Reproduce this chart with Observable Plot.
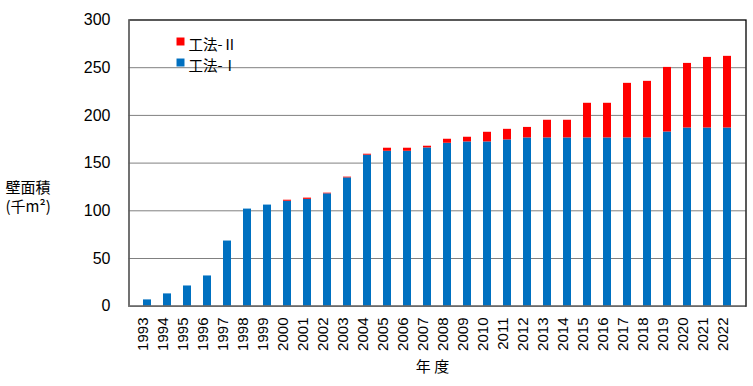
<!DOCTYPE html>
<html>
<head>
<meta charset="utf-8">
<script src="https://cdn.jsdelivr.net/npm/d3@7"></script>
<script src="https://cdn.jsdelivr.net/npm/@observablehq/plot@0.6"></script>
<style>
html, body { margin: 0; padding: 0; background: #fff; }
</style>
</head>
<body>
<div id="chart"></div>
<script>
const years = ["1993","1994","1995","1996","1997","1998","1999","2000","2001","2002","2003","2004","2005","2006","2007","2008","2009","2010","2011","2012","2013","2014","2015","2016","2017","2018","2019","2020","2021","2022"];
const method1 = [6.6,12.9,21.2,31.7,68.3,101.8,106,110,112,117.8,134.5,158.3,162.4,162.4,165.9,170.8,172.2,172.2,174.3,176.4,176.4,176.4,176.4,176.4,176.4,176.4,182.6,186.8,186.8,186.8];
const method2 = [0,0,0,0,0,0,0,1.1,1.3,0.7,0.8,1.0,3.2,3.2,1.8,4.2,4.9,10.1,11.1,11.0,18.5,18.5,36.3,36.3,57.2,59.3,67.7,67.7,74.0,75.1];
const seriesNames = ["工法-Ⅰ","工法-Ⅱ"];
const seriesColors = ["#0070C0","#FF0000"];
const yTicks = [0,50,100,150,200,250,300];
const gridTicks = [50,100,150,200,250];

const rows = [];
years.forEach((y, i) => {
  rows.push({year: y, series: seriesNames[0], value: method1[i]});
  rows.push({year: y, series: seriesNames[1], value: method2[i]});
});

const cjk = "'Noto Sans CJK JP', sans-serif";
function legendItem(i, dy) {
  return [
    Plot.dot([seriesNames[i]], {frameAnchor: "top-left", dx: 51.5, dy, symbol: "square", r: 4.5, fill: seriesColors[i], stroke: null}),
    Plot.text([seriesNames[i]], {frameAnchor: "top-left", dx: 59.5, dy: dy - 2, textAnchor: "start", fontSize: 14.5, fontFamily: cjk})
  ];
}

const chart = Plot.plot({
  width: 753,
  height: 386,
  marginLeft: 128.5,
  marginRight: 7.5,
  marginTop: 19.5,
  marginBottom: 80.3,
  style: {fontFamily: "'Liberation Sans', 'Noto Sans CJK JP', sans-serif", background: "#fff", color: "#000", fontSize: "15px"},
  x: {domain: years, padding: 0.61, align: 0.5, label: null, axis: null},
  y: {domain: [0, 300], label: null, axis: null},
  color: {domain: seriesNames, range: seriesColors},
  marks: [
    Plot.gridY(gridTicks, {stroke: "#808080", strokeOpacity: 1, strokeWidth: 1}),
    Plot.barY(rows, {x: "year", y: "value", fill: "series", order: seriesNames}),
    Plot.frame({stroke: "#000", strokeWidth: 1.3}),
    Plot.ruleY([0], {stroke: "#808080", strokeWidth: 1.3}),
    Plot.frame({anchor: "left", stroke: "#808080", strokeWidth: 1.3}),
    Plot.axisY(yTicks, {tickSize: 0, tickPadding: 18.5, fontSize: 16, label: null}),
    Plot.text(years, {x: d => d, frameAnchor: "bottom", dy: 11.3, rotate: -90, textAnchor: "end", fontSize: 15}),
    ...legendItem(1, 21.5),
    ...legendItem(0, 42.5),
    Plot.text(["壁面積\n(千m²)"], {frameAnchor: "left", dx: -123.5, dy: 33, textAnchor: "start", fontSize: 15, lineHeight: 1.3, fontFamily: cjk}),
    Plot.text(["年 度"], {frameAnchor: "bottom", dx: -5, dy: 65.5, fontSize: 15, fontFamily: cjk, style: {letterSpacing: "3px"}})
  ]
});
document.getElementById("chart").appendChild(chart);
</script>
</body>
</html>
